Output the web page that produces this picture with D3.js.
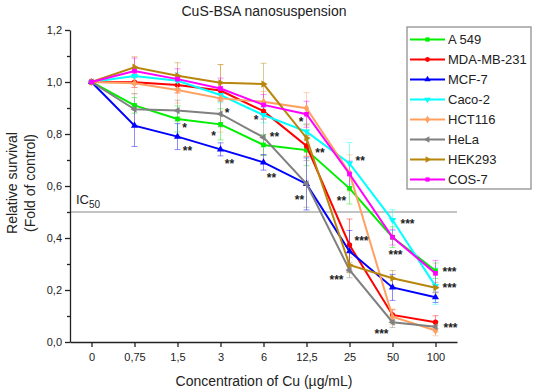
<!DOCTYPE html>
<html>
<head>
<meta charset="utf-8">
<script src="https://cdn.jsdelivr.net/npm/d3@7"></script>
<style>
  body { margin: 0; background: #fff; }
  svg text { font-family: Arial, "Liberation Sans", sans-serif; fill: #222; }
  .axis path, .axis line { stroke: #222; stroke-width: 1.3; }
  .axis text { font-size: 11px; fill: #222; }
</style>
</head>
<body>
<svg width="533" height="392"></svg>
<script>
  var concentrations = ["0", "0,75", "1,5", "3", "6", "12,5", "25", "50", "100"];
  var cellLines = ["A 549", "MDA-MB-231", "MCF-7", "Caco-2", "HCT116", "HeLa", "HEK293", "COS-7"];
  var yTicks = [0, 0.2, 0.4, 0.6, 0.8, 1.0, 1.2];

  // valores (fold of control)
  var a549     = [1, 0.910, 0.858, 0.837, 0.758, 0.738, 0.591, 0.403, 0.274];
  var mda      = [1, 0.999, 0.988, 0.967, 0.888, 0.754, 0.373, 0.104, 0.076];
  var mcf7     = [1, 0.832, 0.790, 0.741, 0.691, 0.608, 0.349, 0.210, 0.172];
  var caco2    = [1, 1.023, 1.005, 0.950, 0.873, 0.809, 0.687, 0.469, 0.215];
  var hct116   = [1, 0.995, 0.969, 0.937, 0.924, 0.899, 0.650, 0.097, 0.044];
  var hela     = [1, 0.895, 0.890, 0.877, 0.787, 0.608, 0.277, 0.076, 0.059];
  var hek293   = [1, 1.057, 1.024, 0.997, 0.992, 0.785, 0.296, 0.245, 0.209];
  var cos7     = [1, 1.042, 1.011, 0.975, 0.912, 0.876, 0.646, 0.403, 0.264];

  // desviaciones (+/-)
  var a549Err   = [0, 0.03, 0.05, 0.06, 0.04, 0.06, 0.06, 0.04, 0.03];
  var mdaErr    = [0, 0.02, 0.03, 0.03, 0.03, 0.04, 0.10, 0.02, 0.025];
  var mcf7Err   = [0, 0.08, 0.05, 0.025, 0.03, 0.10, 0.08, 0.05, 0.02];
  var caco2Err  = [0, 0.03, 0.03, 0.03, 0.03, 0.03, 0.08, 0.04, 0.07];
  var hct116Err = [0, 0.04, 0.05, 0.13, 0.04, 0.06, 0.07, 0.03, 0.02];
  var helaErr   = [0, 0.06, 0.04, 0.05, 0.07, 0.09, 0.03, 0.02, 0.02];
  var hek293Err = [0, 0.04, 0.05, 0.07, 0.08, 0.05, 0.03, 0.03, 0.02];
  var cos7Err   = [0, 0.05, 0.04, 0.04, 0.04, 0.05, 0.05, 0.03, 0.05];

  // asteriscos de significancia: [concentracion, valor, texto, desplazamiento x]
  var stars = [
    ["1,5", 0.831, "*", 7], ["1,5", 0.743, "**", 10],
    ["3", 0.889, "*", 6.5], ["3", 0.800, "*", -7], ["3", 0.694, "**", 9],
    ["6", 0.862, "*", -7.5], ["6", 0.796, "**", 11], ["6", 0.640, "**", 8],
    ["12,5", 0.852, "*", -5.5], ["12,5", 0.735, "**", 13.5], ["12,5", 0.553, "**", -7],
    ["25", 0.703, "**", 10.7], ["25", 0.549, "**", -8], ["25", 0.395, "***", 12], ["25", 0.245, "***", -13],
    ["50", 0.463, "***", 15], ["50", 0.343, "***", 3], ["50", 0.040, "***", -11],
    ["100", 0.277, "***", 14], ["100", 0.215, "***", 14], ["100", 0.062, "***", 15]
  ];

  var values = [a549, mda, mcf7, caco2, hct116, hela, hek293, cos7];
  var errors = [a549Err, mdaErr, mcf7Err, caco2Err, hct116Err, helaErr, hek293Err, cos7Err];
  var colors = ["#00ee00", "#ff0000", "#0000ff", "#00ffff", "#ffa060", "#808080", "#b8860b", "#ff00ff"];
  var symbols = [
    {type: d3.symbolSquare, rot: 0}, {type: d3.symbolCircle, rot: 0},
    {type: d3.symbolTriangle, rot: 0}, {type: d3.symbolTriangle, rot: 180},
    {type: d3.symbolDiamond, rot: 0}, {type: d3.symbolTriangle, rot: -90},
    {type: d3.symbolTriangle, rot: 90}, {type: d3.symbolSquare, rot: 0}
  ];

  var svg = d3.select("svg");

  var x = d3.scalePoint()
      .domain(concentrations)
      .range([70, 457])
      .padding(0.5);

  var y = d3.scaleLinear()
      .domain([0, 1.2])
      .range([342, 30]);

  var fmt = function(d) { return d3.format(".1f")(d).replace(".", ","); };

  // titulo
  svg.append("text")
      .attr("x", 264).attr("y", 16)
      .attr("text-anchor", "middle")
      .style("font-size", "14px")
      .text("CuS-BSA nanosuspension");

  // linea IC50
  svg.append("line")
      .attr("x1", 70).attr("x2", 457)
      .attr("y1", y(0.5)).attr("y2", y(0.5))
      .attr("stroke", "#888").attr("stroke-width", 1);

  var ic = svg.append("text")
      .attr("x", 76).attr("y", y(0.5) - 8)
      .style("font-size", "13px");
  ic.append("tspan").text("IC");
  ic.append("tspan").attr("dy", 4).style("font-size", "10px").text("50");

  // ejes
  svg.append("g")
      .attr("class", "axis")
      .attr("transform", "translate(70,0)")
      .call(d3.axisLeft(y)
          .tickValues(yTicks)
          .tickFormat(fmt)
          .tickSize(5)
          .tickSizeOuter(0)
          .tickPadding(3));

  svg.append("g")
      .attr("class", "axis")
      .attr("transform", "translate(70,0)")
      .call(d3.axisLeft(y)
          .tickValues([0.1, 0.3, 0.5, 0.7, 0.9, 1.1])
          .tickFormat("")
          .tickSize(3)
          .tickSizeOuter(0))
      .select(".domain").remove();

  svg.append("g")
      .attr("class", "axis")
      .attr("transform", "translate(0,342)")
      .call(d3.axisBottom(x)
          .tickSize(5)
          .tickSizeOuter(0)
          .tickPadding(6));

  // etiquetas de ejes
  svg.append("text")
      .attr("transform", "translate(17,183) rotate(-90)")
      .attr("text-anchor", "middle")
      .style("font-size", "14px")
      .text("Relative survival");

  svg.append("text")
      .attr("transform", "translate(35,183) rotate(-90)")
      .attr("text-anchor", "middle")
      .style("font-size", "14px")
      .text("(Fold of control)");

  svg.append("text")
      .attr("x", 264).attr("y", 386)
      .attr("text-anchor", "middle")
      .style("font-size", "14px")
      .text("Concentration of Cu (\u00b5g/mL)");

  // barras de error
  values.forEach(function(vals, s) {
    var g = svg.append("g")
        .attr("stroke", colors[s])
        .attr("stroke-opacity", 0.45)
        .attr("stroke-width", 1);
    vals.forEach(function(v, i) {
      var e = errors[s][i];
      if (!e) return;
      var cx = x(concentrations[i]);
      g.append("line").attr("x1", cx).attr("x2", cx).attr("y1", y(v - e)).attr("y2", y(v + e));
      g.append("line").attr("x1", cx - 3).attr("x2", cx + 3).attr("y1", y(v - e)).attr("y2", y(v - e));
      g.append("line").attr("x1", cx - 3).attr("x2", cx + 3).attr("y1", y(v + e)).attr("y2", y(v + e));
    });
  });

  // lineas y marcadores
  var line = d3.line()
      .x(function(d, i) { return x(concentrations[i]); })
      .y(function(d) { return y(d); });

  values.forEach(function(vals, s) {
    svg.append("path")
        .datum(vals)
        .attr("fill", "none")
        .attr("stroke", colors[s])
        .attr("stroke-width", 2)
        .attr("d", line);

    svg.selectAll(".m" + s)
      .data(vals)
      .enter().append("path")
        .attr("class", "m" + s)
        .attr("fill", colors[s])
        .attr("d", d3.symbol().type(symbols[s].type).size(22))
        .attr("transform", function(d, i) {
          return "translate(" + x(concentrations[i]) + "," + y(d) + ") rotate(" + symbols[s].rot + ")";
        });
  });

  // asteriscos
  svg.selectAll(".star")
    .data(stars)
    .enter().append("text")
      .attr("class", "star")
      .attr("x", function(d) { return x(d[0]) + d[3]; })
      .attr("y", function(d) { return y(d[1]) + 6; })
      .attr("text-anchor", "middle")
      .style("font-size", "12px")
      .style("font-weight", "bold")
      .text(function(d) { return d[2]; });

  // leyenda
  var legend = svg.append("g").attr("transform", "translate(407,27)");
  legend.append("rect")
      .attr("width", 124).attr("height", 162)
      .attr("fill", "#fff")
      .attr("stroke", "#888").attr("stroke-width", 1.2);

  cellLines.forEach(function(name, s) {
    var row = legend.append("g").attr("transform", "translate(0," + (12.5 + s * 20) + ")");
    row.append("line")
        .attr("x1", 3).attr("x2", 38)
        .attr("stroke", colors[s]).attr("stroke-width", 2);
    row.append("path")
        .attr("fill", colors[s])
        .attr("d", d3.symbol().type(symbols[s].type).size(18))
        .attr("transform", "translate(20.5,0) rotate(" + symbols[s].rot + ")");
    row.append("text")
        .attr("x", 41).attr("y", 4.5)
        .style("font-size", "13px")
        .text(name);
  });
</script>
</body>
</html>
